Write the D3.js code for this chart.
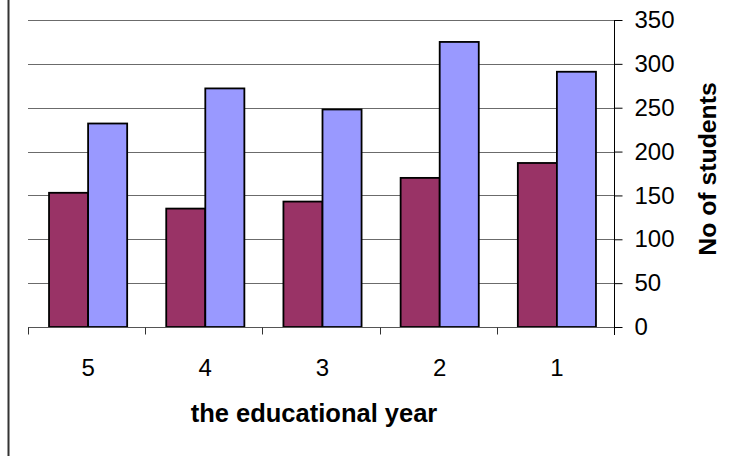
<!DOCTYPE html>
<html>
<head>
<meta charset="utf-8">
<script src="https://cdn.jsdelivr.net/npm/d3@7"></script>
<style>
  html, body { margin: 0; padding: 0; background: #fff; }
  svg { display: block; font-family: "Liberation Sans", Arial, sans-serif; }
</style>
</head>
<body>
<svg id="chart" width="733" height="456"></svg>
<script>
const categories = ["5", "4", "3", "2", "1"];
const seriesNames = ["A", "B"];
const seriesA = [153, 135, 143, 170, 187];
const seriesB = [232, 272, 248, 325, 291];
const yTicks = [0, 50, 100, 150, 200, 250, 300, 350];
const colors = ["#993366", "#9999FF"];
const xTitle = "the educational year";
const yTitle = "No of students";

const svg = d3.select("#chart");
const plotLeft = 28, plotRight = 614, plotTop = 20, plotBottom = 327;

const x = d3.scaleBand().domain(categories).range([plotLeft, plotRight]).padding(0);
const xs = d3.scaleBand().domain(seriesNames).range([0, x.bandwidth()]).paddingInner(0).paddingOuter(0.5);
const y = d3.scaleLinear().domain([0, 350]).range([plotBottom, plotTop]);

// left border line
svg.append("line").attr("x1", 8.5).attr("x2", 8.5).attr("y1", 0).attr("y2", 456)
  .attr("stroke", "#333").attr("stroke-width", 2);

// gridlines
svg.append("g").selectAll("line").data(yTicks.filter(d => d > 0)).join("line")
  .attr("x1", plotLeft).attr("x2", plotRight)
  .attr("y1", d => Math.round(y(d)) + 0.5).attr("y2", d => Math.round(y(d)) + 0.5)
  .attr("stroke", "#6b6b6b").attr("stroke-width", 1.2);

// bars
const data = categories.map((c, i) => ({ c, vals: [seriesA[i], seriesB[i]] }));
const g = svg.append("g").selectAll("g").data(data).join("g")
  .attr("transform", d => `translate(${x(d.c) + 1.5},0)`);
g.selectAll("rect").data(d => d.vals.map((v, j) => ({ v, s: seriesNames[j], j }))).join("rect")
  .attr("x", d => xs(d.s))
  .attr("width", xs.bandwidth())
  .attr("y", d => y(d.v))
  .attr("height", d => y(0) - y(d.v))
  .attr("fill", d => colors[d.j])
  .attr("stroke", "#000").attr("stroke-width", 1.8);

// x axis line and ticks
const xAxisG = svg.append("g").attr("transform", `translate(0,${plotBottom + 0.5})`);
xAxisG.append("line").attr("x1", plotLeft).attr("x2", plotRight).attr("stroke", "#555").attr("stroke-width", 1.2);
const bounds = categories.map(c => x(c)).concat([plotRight]);
xAxisG.selectAll("line.tick").data(bounds).join("line").attr("class", "tick")
  .attr("x1", d => Math.round(d) + 0.5).attr("x2", d => Math.round(d) + 0.5)
  .attr("y1", 0).attr("y2", 7).attr("stroke", "#333").attr("stroke-width", 1);
xAxisG.selectAll("text").data(categories).join("text")
  .attr("x", d => x(d) + x.bandwidth() / 2 + 1.5)
  .attr("y", 48)
  .attr("text-anchor", "middle")
  .attr("font-size", 24)
  .attr("fill", "#000")
  .text(d => d);

// right y axis
const yAxis = d3.axisRight(y).tickValues(yTicks).tickSizeInner(8).tickSizeOuter(0).tickPadding(12);
const yAxisG = svg.append("g").attr("transform", `translate(${plotRight + 0.5},0)`).call(yAxis);
yAxisG.select(".domain").remove();
yAxisG.append("line").attr("y1", plotTop).attr("y2", plotBottom + 8).attr("stroke", "#000").attr("stroke-width", 1);
yAxisG.selectAll(".tick line").attr("stroke", "#000").attr("x1", 0);
yAxisG.selectAll(".tick text").attr("font-size", 24).attr("fill", "#000")
  .attr("font-family", "Liberation Sans, Arial, sans-serif");

// titles
svg.append("text").attr("x", 314).attr("y", 422).attr("text-anchor", "middle")
  .attr("font-size", 25.5).attr("font-weight", "bold").attr("fill", "#000").text(xTitle);
svg.append("text").attr("transform", "translate(716,169) rotate(-90)").attr("text-anchor", "middle")
  .attr("font-size", 24.8).attr("font-weight", "bold").attr("fill", "#000").text(yTitle);
</script>
</body>
</html>
